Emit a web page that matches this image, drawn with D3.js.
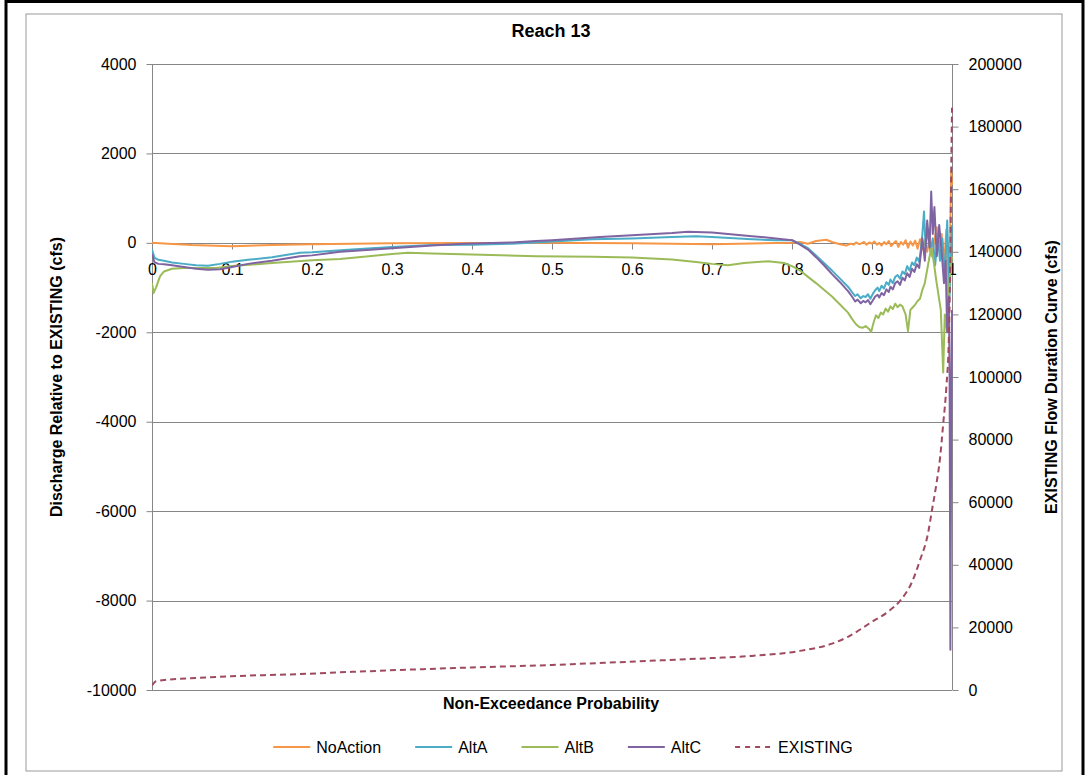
<!DOCTYPE html>
<html>
<head>
<meta charset="utf-8">
<script src="https://cdn.jsdelivr.net/npm/d3@7"></script>
<style>
  body { margin: 0; background: #fff; }
  svg { display: block; font-family: "Liberation Sans", Arial, sans-serif; }
</style>
</head>
<body>
<svg id="chart" width="1086" height="775"></svg>
<script>
// Reach 13 – Abweichung zu EXISTING (links) und Dauerlinie EXISTING (rechts)

// [Unterschreitungswahrscheinlichkeit, cfs]
const noAction = [[0,0],[0.02,-20],[0.05,-50],[0.1,-75],[0.15,-50],[0.2,-30],[0.3,-10],[0.4,-5],[0.5,0],[0.6,-10],[0.65,-20],[0.7,-30],[0.75,-15],[0.8,0],[0.81,20],[0.82,-20],[0.83,40],[0.843,70],[0.85,20],[0.86,-30],[0.868,-60],[0.873,-20],[0.877,-40],[0.88,10],[0.884,-30],[0.887,-10],[0.89,20],[0.893,-40],[0.897,10],[0.9,-20],[0.903,30],[0.906,-40],[0.909,0],[0.912,-60],[0.915,20],[0.918,-30],[0.921,40],[0.924,-70],[0.927,-10],[0.93,40],[0.933,-90],[0.936,20],[0.939,-40],[0.942,60],[0.945,-110],[0.948,30],[0.951,-60],[0.954,50],[0.957,-130],[0.96,80],[0.963,-150],[0.966,60],[0.969,-200],[0.972,100],[0.975,-300],[0.978,50],[0.981,350],[0.984,-100],[0.987,200],[0.99,-500],[0.993,300],[0.995,-1800],[0.997,-600],[0.999,1600],[1.0,1300]];

const altA = [[0,-150],[0.003,-330],[0.008,-380],[0.015,-400],[0.025,-440],[0.04,-470],[0.055,-500],[0.07,-510],[0.085,-470],[0.1,-420],[0.12,-380],[0.15,-320],[0.185,-220],[0.2,-210],[0.25,-150],[0.3,-90],[0.35,-50],[0.4,-40],[0.45,-20],[0.5,30],[0.55,80],[0.6,100],[0.65,130],[0.68,150],[0.7,130],[0.75,80],[0.78,60],[0.8,60],[0.81,-20],[0.82,-120],[0.83,-280],[0.84,-450],[0.85,-620],[0.86,-800],[0.87,-980],[0.875,-1100],[0.879,-1190],[0.882,-1150],[0.886,-1240],[0.889,-1190],[0.892,-1210],[0.895,-1150],[0.898,-1250],[0.901,-1140],[0.904,-1060],[0.907,-1000],[0.909,-1080],[0.912,-960],[0.915,-1020],[0.918,-880],[0.921,-940],[0.923,-820],[0.926,-900],[0.929,-760],[0.932,-720],[0.935,-800],[0.938,-640],[0.941,-700],[0.944,-520],[0.947,-620],[0.95,-440],[0.953,-500],[0.956,-330],[0.959,-420],[0.961,-150],[0.963,200],[0.965,700],[0.967,-100],[0.97,300],[0.973,-200],[0.976,100],[0.979,-500],[0.982,200],[0.985,-400],[0.988,100],[0.991,-800],[0.994,500],[0.997,-1200],[1.0,400]];

const altB = [[0,-900],[0.002,-1120],[0.005,-1000],[0.01,-750],[0.015,-640],[0.025,-580],[0.04,-560],[0.06,-560],[0.08,-560],[0.1,-520],[0.15,-450],[0.2,-390],[0.235,-360],[0.3,-250],[0.32,-220],[0.35,-240],[0.4,-260],[0.48,-300],[0.55,-310],[0.6,-330],[0.65,-370],[0.68,-430],[0.7,-470],[0.72,-500],[0.74,-450],[0.77,-410],[0.79,-450],[0.8,-520],[0.81,-620],[0.82,-760],[0.83,-900],[0.84,-1050],[0.85,-1200],[0.86,-1380],[0.87,-1560],[0.875,-1700],[0.88,-1820],[0.884,-1880],[0.888,-1900],[0.892,-1860],[0.896,-1920],[0.899,-1990],[0.902,-1780],[0.905,-1620],[0.908,-1680],[0.911,-1560],[0.914,-1600],[0.917,-1470],[0.92,-1540],[0.923,-1420],[0.926,-1480],[0.929,-1360],[0.932,-1440],[0.935,-1380],[0.938,-1420],[0.942,-1600],[0.945,-1975],[0.948,-1500],[0.951,-1440],[0.954,-1380],[0.957,-1300],[0.96,-1250],[0.963,-1050],[0.966,-900],[0.969,-600],[0.972,-300],[0.974,-120],[0.977,-400],[0.98,-800],[0.983,-1150],[0.986,-1500],[0.989,-2900],[0.991,-1600],[0.994,-2000],[0.997,-800],[1.0,-300]];

const altC = [[0,-250],[0.003,-430],[0.008,-470],[0.015,-480],[0.025,-500],[0.04,-540],[0.055,-580],[0.07,-600],[0.085,-590],[0.1,-540],[0.12,-470],[0.15,-400],[0.185,-300],[0.2,-280],[0.235,-200],[0.25,-180],[0.3,-120],[0.35,-60],[0.39,-20],[0.45,10],[0.48,40],[0.5,60],[0.56,130],[0.6,170],[0.65,220],[0.67,250],[0.7,230],[0.75,150],[0.78,100],[0.8,60],[0.81,-40],[0.82,-150],[0.83,-320],[0.84,-500],[0.85,-700],[0.86,-880],[0.87,-1080],[0.875,-1200],[0.879,-1310],[0.882,-1270],[0.886,-1350],[0.889,-1300],[0.892,-1330],[0.895,-1280],[0.898,-1370],[0.901,-1290],[0.904,-1200],[0.907,-1160],[0.909,-1220],[0.912,-1120],[0.915,-1170],[0.918,-1040],[0.921,-1100],[0.923,-980],[0.926,-1040],[0.929,-900],[0.932,-860],[0.935,-940],[0.938,-780],[0.941,-840],[0.944,-680],[0.947,-760],[0.95,-580],[0.953,-650],[0.956,-480],[0.959,-560],[0.961,-250],[0.963,100],[0.966,-400],[0.969,500],[0.972,-100],[0.974,1150],[0.976,200],[0.978,800],[0.981,-300],[0.984,400],[0.987,-200],[0.99,-900],[0.992,-400],[0.994,-2000],[0.996,-1200],[0.997,-3000],[0.998,-9100],[0.999,-4000],[1.0,-1500]];

const existing = [[0,1500],[0.005,2800],[0.02,3300],[0.06,3900],[0.1,4400],[0.185,5100],[0.25,5800],[0.31,6400],[0.4,7200],[0.5,8000],[0.62,9300],[0.7,10200],[0.75,10900],[0.81,12500],[0.85,14800],[0.87,17000],[0.9,21800],[0.92,25000],[0.935,28500],[0.95,34500],[0.96,41500],[0.97,50000],[0.975,57500],[0.98,65000],[0.985,74000],[0.989,85000],[0.993,97000],[0.996,112000],[0.998,140000],[0.999,165000],[1.0,186000]];

const xTicks = [0, 0.1, 0.2, 0.3, 0.4, 0.5, 0.6, 0.7, 0.8, 0.9, 1];
const leftTicks = [4000, 2000, 0, -2000, -4000, -6000, -8000, -10000];
const rightTicks = [0, 20000, 40000, 60000, 80000, 100000, 120000, 140000, 160000, 180000, 200000];

const seriesList = [
  { name: "NoAction", data: noAction, color: "#f79646", axis: "left" },
  { name: "AltA", data: altA, color: "#4bacc6", axis: "left" },
  { name: "AltB", data: altB, color: "#9bbb59", axis: "left" },
  { name: "AltC", data: altC, color: "#8064a2", axis: "left" },
  { name: "EXISTING", data: existing, color: "#a04a60", axis: "right", dash: "6,4" }
];

const svg = d3.select("#chart");
const plot = { left: 152, right: 952, top: 64, bottom: 690 };
const gridColor = "#868686";

// Rahmen
svg.append("rect")
  .attr("x", 26).attr("y", 14).attr("width", 1036).attr("height", 757)
  .attr("fill", "none").attr("stroke", "#9a9a9a").attr("stroke-width", 1);
svg.append("path")
  .attr("d", "M6,775 V1.5 H1083 V775")
  .attr("fill", "none").attr("stroke", "#000").attr("stroke-width", 3);

const x = d3.scaleLinear().domain([0, 1]).range([plot.left, plot.right]);
const yL = d3.scaleLinear().domain([-10000, 4000]).range([plot.bottom, plot.top]);
const yR = d3.scaleLinear().domain([0, 200000]).range([plot.bottom, plot.top]);

// Gitterlinien
svg.append("g")
  .selectAll("line")
  .data(leftTicks)
  .join("line")
    .attr("x1", plot.left).attr("x2", plot.right)
    .attr("y1", d => Math.round(yL(d)) + 0.5).attr("y2", d => Math.round(yL(d)) + 0.5)
    .attr("stroke", gridColor).attr("stroke-width", 1);

// linke Achse
const leftAxis = svg.append("g")
  .attr("transform", `translate(${plot.left + 0.5},0)`)
  .call(d3.axisLeft(yL).tickValues(leftTicks).tickSize(6).tickPadding(10).tickFormat(d => String(d)));

// rechte Achse
const rightAxis = svg.append("g")
  .attr("transform", `translate(${plot.right + 0.5},0)`)
  .call(d3.axisRight(yR).tickValues(rightTicks).tickSize(6).tickPadding(10).tickFormat(d => String(d)));

// x-Achse kreuzt bei 0
const xAxis = svg.append("g")
  .attr("transform", `translate(0,${Math.round(yL(0)) + 0.5})`)
  .call(d3.axisBottom(x).tickValues(xTicks).tickSize(6).tickPadding(14).tickFormat(d => d === 0 || d === 1 ? String(d) : d3.format(".1f")(d)));

[leftAxis, rightAxis, xAxis].forEach(a => {
  a.selectAll("path, line").attr("stroke", gridColor);
  a.selectAll("text").attr("fill", "#000").attr("font-size", "16px");
});
leftAxis.select(".domain").attr("d", `M0,${plot.top}V${plot.bottom}`);
rightAxis.select(".domain").attr("d", `M0,${plot.top}V${plot.bottom}`);
xAxis.select(".domain").attr("d", `M${plot.left},0H${plot.right}`);

// Kurven
svg.append("clipPath").attr("id", "clip")
  .append("rect")
  .attr("x", plot.left).attr("y", plot.top - 2)
  .attr("width", plot.right - plot.left + 2).attr("height", plot.bottom - plot.top + 4);

const lines = svg.append("g").attr("clip-path", "url(#clip)");
seriesList.forEach(s => {
  const yScale = s.axis === "left" ? yL : yR;
  const line = d3.line()
    .x(d => x(d[0]))
    .y(d => yScale(d[1]))
    .curve(s.dash ? d3.curveMonotoneX : d3.curveLinear);
  lines.append("path")
    .datum(s.data)
    .attr("d", line)
    .attr("fill", "none")
    .attr("stroke", s.color)
    .attr("stroke-width", 2)
    .attr("stroke-linejoin", "round")
    .attr("stroke-dasharray", s.dash || null);
});

// Titel
svg.append("text")
  .attr("x", 551).attr("y", 37)
  .attr("text-anchor", "middle")
  .attr("font-size", "18px").attr("font-weight", "bold")
  .text("Reach 13");

svg.append("text")
  .attr("transform", `translate(62,${(plot.top + plot.bottom) / 2}) rotate(-90)`)
  .attr("text-anchor", "middle")
  .attr("font-size", "16px").attr("font-weight", "bold")
  .text("Discharge Relative to EXISTING (cfs)");

svg.append("text")
  .attr("transform", `translate(1057,${(plot.top + plot.bottom) / 2}) rotate(-90)`)
  .attr("text-anchor", "middle")
  .attr("font-size", "16px").attr("font-weight", "bold")
  .text("EXISTING Flow Duration Curve (cfs)");

svg.append("text")
  .attr("x", 551).attr("y", 709)
  .attr("text-anchor", "middle")
  .attr("font-size", "16px").attr("font-weight", "bold")
  .text("Non-Exceedance Probability");

// Legende
const legend = svg.append("g");
let lx = 0;
seriesList.forEach(s => {
  const item = legend.append("g").attr("transform", `translate(${lx},0)`);
  item.append("line")
    .attr("x1", 0).attr("x2", 37).attr("y1", 0).attr("y2", 0)
    .attr("stroke", s.color).attr("stroke-width", 2)
    .attr("stroke-dasharray", s.dash ? "5,5" : null);
  const t = item.append("text")
    .attr("x", 43).attr("y", 6)
    .attr("font-size", "16px")
    .text(s.name);
  lx += 43 + t.node().getComputedTextLength() + 34;
});
const lb = legend.node().getBBox();
legend.attr("transform", `translate(${563 - lb.width / 2},747)`);
</script>
</body>
</html>
